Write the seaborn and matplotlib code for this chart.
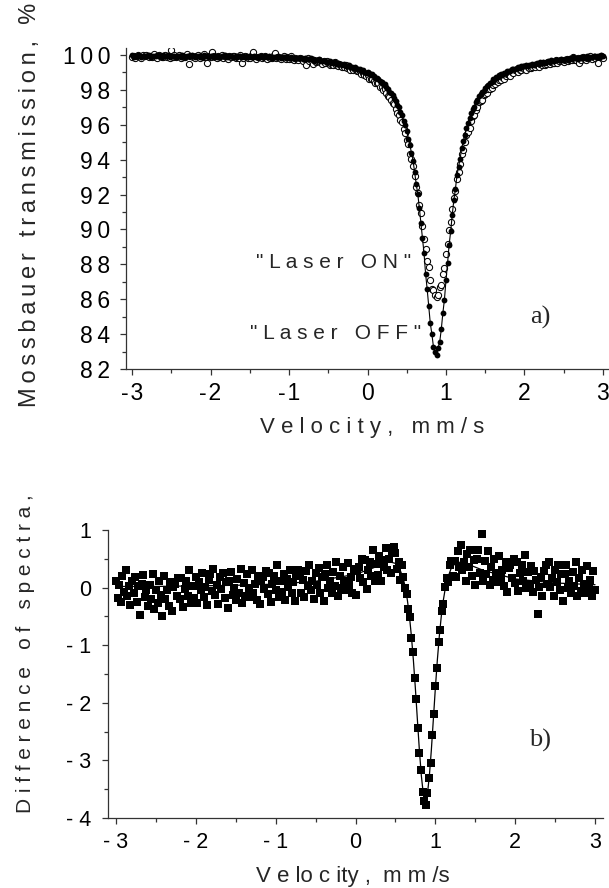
import numpy as np
import matplotlib
matplotlib.use("Agg")
import matplotlib.pyplot as plt
import seaborn as sns
from matplotlib.ticker import MultipleLocator
from matplotlib.transforms import Bbox, TransformedBbox

# velocity channels of the spectrometer, mm/s (-3 ... 3, step 0.02)
velocity = np.round(np.linspace(-3.0, 3.0, 301), 3)

# a) transmission, %  (10 channels per row)
laser_off = [
    99.98, 99.90, 99.96, 99.93, 100.01, 99.94, 99.91, 99.97, 99.95, 99.92,
    99.94, 99.99, 99.89, 99.96, 99.97, 99.92, 100.00, 99.93, 99.96, 99.91,
    99.99, 99.92, 99.94, 99.98, 99.89, 99.95, 99.93, 99.97, 99.90, 99.94,
    99.96, 99.91, 99.98, 99.93, 99.89, 99.97, 99.94, 99.92, 99.99, 99.93,
    99.90, 99.94, 99.95, 99.89, 99.96, 99.91, 99.99, 99.92, 99.93, 99.88,
    99.94, 99.96, 99.91, 99.93, 99.89, 99.97, 99.90, 99.95, 99.92, 99.98,
    99.91, 99.88, 99.94, 99.92, 99.89, 99.91, 99.96, 99.86, 99.93, 99.94,
    99.88, 99.96, 99.89, 99.92, 99.87, 99.96, 99.89, 99.91, 99.95, 99.86,
    99.91, 99.89, 99.93, 99.86, 99.90, 99.92, 99.87, 99.94, 99.89, 99.85,
    99.91, 99.88, 99.86, 99.93, 99.87, 99.85, 99.89, 99.90, 99.84, 99.91,
    99.83, 99.91, 99.83, 99.84, 99.78, 99.84, 99.85, 99.80, 99.81, 99.76,
    99.83, 99.75, 99.79, 99.75, 99.80, 99.77, 99.68, 99.73, 99.69, 99.76,
    99.67, 99.63, 99.67, 99.64, 99.60, 99.60, 99.64, 99.52, 99.58, 99.57,
    99.49, 99.55, 99.46, 99.48, 99.41, 99.48, 99.39, 99.39, 99.41, 99.30,
    99.33, 99.28, 99.29, 99.19, 99.20, 99.19, 99.11, 99.14, 99.05, 98.97,
    99.01, 98.94, 98.87, 98.89, 98.77, 98.70, 98.67, 98.61, 98.48, 98.47,
    98.34, 98.33, 98.16, 98.06, 97.89, 97.83, 97.71, 97.51, 97.36, 97.14,
    97.02, 96.73, 96.54, 96.24, 96.00, 95.65, 95.21, 94.86, 94.37, 93.95,
    93.31, 92.62, 92.05, 91.25, 90.36, 89.51, 88.65, 87.46, 86.59, 85.63,
    84.62, 84.01, 83.28, 83.00, 82.83, 83.22, 83.55, 84.27, 85.20, 85.97,
    87.09, 88.06, 89.12, 89.90, 90.85, 91.68, 92.31, 93.10, 93.60, 94.05,
    94.66, 95.06, 95.42, 95.84, 96.09, 96.36, 96.65, 96.89, 97.04, 97.30,
    97.43, 97.66, 97.74, 97.88, 97.95, 98.12, 98.25, 98.29, 98.40, 98.44,
    98.60, 98.60, 98.71, 98.75, 98.86, 98.90, 98.86, 98.97, 98.98, 99.11,
    99.08, 99.08, 99.18, 99.19, 99.19, 99.24, 99.31, 99.24, 99.34, 99.37,
    99.34, 99.44, 99.39, 99.43, 99.40, 99.51, 99.45, 99.49, 99.54, 99.47,
    99.57, 99.56, 99.62, 99.56, 99.62, 99.65, 99.61, 99.70, 99.66, 99.63,
    99.73, 99.71, 99.70, 99.78, 99.73, 99.72, 99.77, 99.79, 99.74, 99.82,
    99.78, 99.87, 99.81, 99.82, 99.78, 99.85, 99.88, 99.83, 99.86, 99.83,
    99.92, 99.85, 99.91, 99.89, 99.95, 99.94, 99.86, 99.93, 99.90, 99.99,
    99.93,
]

laser_on = [
    99.87, 99.97, 99.84, 99.95, 100.00, 99.90, 99.82, 99.98, 99.92, 100.01,
    99.96, 99.86, 99.94, 99.89, 100.03, 99.91, 99.85, 99.99, 99.93, 99.88,
    99.89, 100.01, 99.86, 99.94, 99.82, 100.28, 99.91, 99.99, 99.88, 99.93,
    99.98, 99.84, 99.95, 99.90, 99.87, 100.03, 99.50, 99.92, 99.97, 99.89,
    99.82, 99.93, 99.99, 99.85, 99.92, 99.87, 100.03, 99.89, 99.55, 99.95,
    99.90, 100.15, 99.97, 99.89, 99.82, 99.93, 99.87, 99.99, 99.84, 99.92,
    99.86, 99.78, 99.94, 99.88, 99.97, 99.92, 99.82, 99.90, 99.85, 99.99,
    99.55, 99.80, 99.94, 99.88, 99.83, 99.85, 99.97, 100.15, 99.90, 99.78,
    99.91, 99.86, 99.94, 99.83, 99.88, 99.93, 99.79, 99.90, 99.85, 99.82,
    99.96, 100.12, 99.85, 99.90, 99.82, 99.76, 99.87, 99.93, 99.79, 99.86,
    99.77, 99.93, 99.78, 99.73, 99.83, 99.79, 99.73, 99.85, 99.76, 99.68,
    99.78, 99.45, 99.81, 99.65, 99.72, 99.50, 99.71, 99.57, 99.66, 99.69,
    99.59, 99.49, 99.64, 99.56, 99.63, 99.56, 99.45, 99.51, 99.44, 99.57,
    99.42, 99.34, 99.46, 99.38, 99.30, 99.30, 99.40, 99.23, 99.28, 99.14,
    99.25, 99.16, 99.21, 99.06, 99.07, 99.08, 98.90, 98.97, 98.87, 98.78,
    98.87, 98.64, 98.65, 98.64, 98.50, 98.37, 98.40, 98.39, 98.16, 98.14,
    98.00, 98.05, 97.80, 97.63, 97.61, 97.43, 97.23, 97.19, 96.93, 96.67,
    96.57, 96.28, 96.15, 95.73, 95.52, 95.11, 94.87, 94.35, 94.05, 93.65,
    93.06, 92.42, 92.10, 91.42, 90.94, 90.22, 89.43, 88.90, 88.19, 87.82,
    87.13, 86.61, 86.51, 86.24, 86.13, 86.27, 86.70, 86.84, 87.43, 87.81,
    88.62, 89.18, 89.95, 90.44, 91.15, 91.82, 92.19, 92.89, 93.32, 93.73,
    94.35, 94.57, 95.00, 95.39, 95.61, 95.84, 96.21, 96.50, 96.58, 96.85,
    96.99, 97.32, 97.34, 97.43, 97.68, 97.76, 97.83, 98.05, 98.07, 98.10,
    98.29, 98.32, 98.51, 98.43, 98.58, 98.56, 98.72, 98.64, 98.81, 98.90,
    98.85, 98.81, 99.01, 98.99, 99.12, 99.10, 99.04, 99.15, 99.13, 99.30,
    99.20, 99.16, 99.32, 99.28, 99.25, 99.29, 99.43, 99.30, 99.40, 99.30,
    99.46, 99.43, 99.53, 99.44, 99.51, 99.58, 99.46, 99.59, 99.55, 99.53,
    99.71, 99.54, 99.63, 99.69, 99.63, 99.58, 99.70, 99.78, 99.65, 99.73,
    99.69, 99.86, 99.73, 99.69, 99.81, 99.55, 99.73, 99.86, 99.79, 99.73,
    99.85, 99.80, 99.93, 99.78, 99.87, 99.80, 99.90, 99.55, 99.90, 99.95,
    99.83,
]

# b) difference of spectra, %
difference = [
    0.12, -0.18, 0.05, -0.25, 0.20, -0.08, 0.30, -0.14, 0.02, -0.30,
    0.11, -0.10, 0.19, -0.25, 0.03, -0.47, 0.06, 0.22, -0.17, -0.05,
    -0.32, 0.05, -0.19, 0.23, -0.37, -0.04, -0.26, 0.11, -0.13, -0.50,
    0.20, -0.19, -0.04, -0.32, 0.10, -0.41, 0.01, 0.06, -0.15, 0.17,
    -0.20, 0.17, -0.34, -0.02, 0.12, -0.15, 0.30, -0.26, 0.02, -0.18,
    0.19, -0.26, 0.10, -0.04, 0.26, -0.17, 0.01, -0.31, 0.13, 0.23,
    -0.06, 0.32, -0.12, 0.04, -0.28, 0.18, -0.03, 0.26, -0.18, 0.10,
    -0.35, 0.11, 0.27, -0.12, 0.00, -0.22, 0.15, -0.09, 0.33, -0.27,
    0.08, -0.14, 0.23, -0.01, -0.17, 0.30, -0.09, 0.06, -0.22, 0.20,
    -0.29, 0.13, 0.18, -0.03, 0.29, -0.11, 0.26, -0.25, 0.07, 0.21,
    -0.05, 0.40, -0.16, 0.12, -0.08, 0.24, -0.21, 0.15, 0.01, 0.31,
    -0.09, 0.09, -0.23, 0.21, 0.31, 0.20, -0.10, 0.13, -0.17, 0.28,
    0.02, 0.40, -0.04, 0.12, -0.20, 0.26, 0.05, 0.34, -0.10, 0.18,
    -0.23, 0.23, 0.39, 0.00, 0.12, -0.10, 0.27, 0.03, 0.45, -0.15,
    0.21, -0.01, 0.36, 0.12, -0.04, 0.43, 0.04, 0.19, -0.09, 0.33,
    -0.13, 0.30, 0.36, 0.16, 0.49, 0.10, 0.48, -0.03, 0.30, 0.45,
    0.20, 0.66, 0.12, 0.41, 0.22, 0.55, 0.11, 0.48, 0.36, 0.68,
    0.31, 0.49, 0.25, 0.62, 0.70, 0.60, 0.32, 0.44, 0.13, 0.40,
    0.18, -0.01, -0.11, -0.37, -0.51, -0.87, -1.11, -1.57, -1.93, -2.44,
    -2.87, -3.16, -3.54, -3.70, -3.77, -3.57, -3.31, -3.04, -2.56, -2.20,
    -1.71, -1.39, -0.95, -0.73, -0.40, -0.28, 0.01, 0.17, 0.10, 0.40,
    0.46, 0.20, 0.46, 0.18, 0.64, 0.36, 0.74, 0.30, 0.45, 0.12,
    0.58, 0.36, 0.65, 0.20, 0.48, 0.04, 0.49, 0.65, 0.25, 0.93,
    0.11, 0.47, 0.23, 0.64, 0.04, 0.36, 0.14, 0.50, 0.26, 0.09,
    0.55, 0.16, 0.30, 0.02, 0.44, -0.08, 0.34, 0.39, 0.17, 0.49,
    0.08, 0.45, -0.06, 0.25, 0.39, 0.11, 0.56, 0.00, 0.27, 0.07,
    0.38, -0.07, 0.29, 0.14, -0.46, 0.01, 0.18, -0.14, 0.29, 0.39,
    0.07, 0.45, 0.01, 0.17, -0.15, 0.31, 0.10, 0.39, -0.05, 0.23,
    -0.23, 0.23, 0.39, 0.00, 0.12, -0.10, 0.27, 0.03, 0.45, -0.15,
    0.16, -0.06, 0.31, 0.07, -0.09, 0.38, -0.01, 0.14, -0.14, 0.28,
    -0.05,
]

# fitted curve through the difference spectrum
fit_velocity = [-3.0, -2.5, -2.0, -1.5, -1.0, -0.5, 0.0, 0.2, 0.4, 0.45,
                0.5, 0.55, 0.6, 0.625, 0.65, 0.675, 0.7, 0.725, 0.75, 0.775,
                0.8, 0.825, 0.85, 0.875, 0.9, 0.925, 0.95, 0.975, 1.0, 1.025,
                1.05, 1.075, 1.1, 1.125, 1.15, 1.2, 1.25, 1.3, 1.4, 1.6,
                2.0, 2.5, 3.0]
fit_difference = [0.02, 0.02, 0.03, 0.04, 0.06, 0.11, 0.23, 0.33, 0.44, 0.44,
                  0.42, 0.34, 0.15, -0.01, -0.22, -0.49, -0.84, -1.26, -1.75, -2.29,
                  -2.82, -3.27, -3.59, -3.70, -3.59, -3.27, -2.82, -2.29, -1.75, -1.26,
                  -0.84, -0.49, -0.22, -0.01, 0.15, 0.34, 0.42, 0.44, 0.41, 0.30,
                  0.15, 0.08, 0.05]

top_xticks = [-3, -2, -1, 0, 1, 2, 3]
top_yticks = [82, 84, 86, 88, 90, 92, 94, 96, 98, 100]
bottom_xticks = [-3, -2, -1, 0, 1, 2, 3]
bottom_xticklabels = ["- 3", "- 2", "- 1", "0", "1", "2", "3"]
bottom_yticks = [-4, -3, -2, -1, 0, 1]
bottom_yticklabels = ["- 4", "- 3", "- 2", "- 1", "0", "1"]


def spaced(text, gap="\u2009"):
    # the original figure uses wide letter spacing
    return gap.join(text)


sns.set_style("ticks")
plt.rcParams["font.family"] = ["Liberation Sans", "DejaVu Sans"]
plt.rcParams["axes.edgecolor"] = "#333333"
plt.rcParams["xtick.color"] = "#333333"
plt.rcParams["ytick.color"] = "#333333"
plt.rcParams["xtick.labelcolor"] = "black"
plt.rcParams["ytick.labelcolor"] = "black"

fig = plt.figure(figsize=(6.09, 8.88), dpi=100)
ax1 = fig.add_axes([126 / 609, 1 - 369 / 888, 483 / 609, 321 / 888])
ax2 = fig.add_axes([108 / 609, 1 - 818 / 888, 495 / 609, 288 / 888])

# ---- a) spectra with laser on / off
sns.scatterplot(x=velocity, y=laser_on, ax=ax1, marker="o", s=20,
                facecolor="white", edgecolor="black", linewidth=0.75, zorder=2)
sns.lineplot(x=velocity, y=laser_off, ax=ax1, color="black", lw=0.8,
             marker="o", markersize=4.2, markeredgewidth=0, zorder=3)

ax1.set_xlim(-3.077, 3.077)
ax1.set_ylim(82, 100.4)
ax1.set_xticks(top_xticks)
ax1.set_xticklabels([spaced(str(t), "\u200a") for t in top_xticks])
ax1.set_yticks(top_yticks)
ax1.set_yticklabels([spaced(str(t)) for t in top_yticks])
ax1.xaxis.set_minor_locator(MultipleLocator(0.5))
ax1.yaxis.set_minor_locator(MultipleLocator(1))
ax1.tick_params(axis="both", which="major", length=4.3, width=0.9,
                labelsize=16.5)
ax1.tick_params(axis="both", which="minor", length=2.6, width=0.9)
ax1.tick_params(axis="x", which="major", pad=5)
ax1.tick_params(axis="y", which="major", pad=7)
sns.despine(ax=ax1)
ax1.spines["left"].set_linewidth(0.9)
ax1.spines["bottom"].set_linewidth(0.9)

ax1.set_xlabel(spaced("Velocity, mm/s", " "), fontsize=16, va="top")
ax1.xaxis.set_label_coords(0.509, -0.15)
ax1.set_ylabel(spaced("Mossbauer transmission, %"), fontsize=17)
ax1.yaxis.set_label_coords(-0.175, 0.511)

ax1.text(-0.43, 88.13, spaced('"Laser ON"', " "), fontsize=15,
         ha="center", va="center")
ax1.text(-0.41, 84.06, spaced('"Laser OFF"', " "), fontsize=15,
         ha="center", va="center")
ax1.text(2.2, 84.98, "a)", fontsize=19, family="Liberation Serif",
         ha="center", va="center")

# ---- b) difference of the spectra
sns.lineplot(x=fit_velocity, y=fit_difference, ax=ax2, color="black", lw=0.9,
             zorder=2)
sns.scatterplot(x=velocity, y=difference, ax=ax2, marker="s", s=34,
                color="black", linewidth=0, zorder=3)

ax2.set_xlim(-3.1, 3.1)
ax2.set_ylim(-4, 1)
ax2.set_xticks(bottom_xticks)
ax2.set_xticklabels(bottom_xticklabels)
ax2.set_yticks(bottom_yticks)
ax2.set_yticklabels(bottom_yticklabels)
ax2.xaxis.set_minor_locator(MultipleLocator(0.5))
ax2.yaxis.set_minor_locator(MultipleLocator(0.5))
ax2.tick_params(axis="both", which="major", length=4.3, width=0.9, labelsize=15.5)
ax2.tick_params(axis="both", which="minor", length=2.6, width=0.9)
ax2.tick_params(axis="x", which="major", pad=6)
ax2.tick_params(axis="y", which="major", pad=8)
sns.despine(ax=ax2)
ax2.spines["left"].set_linewidth(0.9)
ax2.spines["bottom"].set_linewidth(0.9)

ax2.set_xlabel("V e lo c ity ,  m m /s", fontsize=16, va="top")
ax2.xaxis.set_label_coords(0.495, -0.165)
ax2.set_ylabel(spaced("Difference of spectra, %", " "), fontsize=15,
               loc="bottom")
ax2.yaxis.set_label_coords(-0.147, 0.017)
# the label runs out of the original picture area and is cut off at the top
ax2.yaxis.label.set_clip_box(
    TransformedBbox(Bbox([[0, 0], [1, (888 - 485) / 888]]), fig.transFigure))

ax2.text(2.31, -2.65, "b)", fontsize=19, family="Liberation Serif",
         ha="center", va="center")

fig.savefig("out.png", dpi=100)
